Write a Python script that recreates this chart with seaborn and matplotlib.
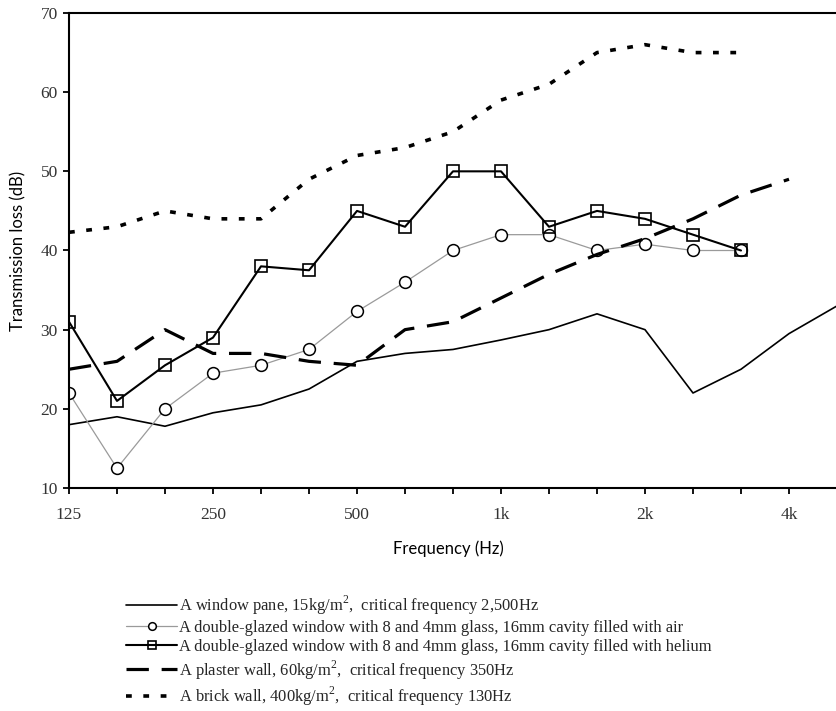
import numpy as np
import pandas as pd
import matplotlib
matplotlib.use("Agg")
import matplotlib.pyplot as plt
import seaborn as sns

# ---- data -------------------------------------------------------------
bands = ["125", "160", "200", "250", "315", "400", "500", "630", "800",
         "1k", "1.25k", "1.6k", "2k", "2.5k", "3.15k", "4k", "5k"]
tick_bands = ["125", "250", "500", "1k", "2k", "4k"]

window_pane = [18, 19, 17.8, 19.5, 20.5, 22.5, 26, 27, 27.5, 28.7, 30, 32, 30, 22, 25, 29.5, 33]
double_air = [22, 12.5, 20, 24.5, 25.5, 27.5, 32.3, 36, 40, 42, 42, 40, 40.8, 40, 40]
double_helium = [31, 21, 25.5, 29, 38, 37.5, 45, 43, 50, 50, 43, 45, 44, 42, 40]
plaster_wall = [25, 26, 30, 27, 27, 26, 25.5, 30, 31, 34, 37, 39.5, 41.5, 44, 47, 49]
brick_wall = [42.3, 43, 45, 44, 44, 49, 52, 53, 55, 59, 61, 65, 66, 65, 65]

labels = [
    "A window pane, 15kg/m$^2$,  critical frequency 2,500Hz",
    "A double-glazed window with 8 and 4mm glass, 16mm cavity filled with air",
    "A double-glazed window with 8 and 4mm glass, 16mm cavity filled with helium",
    "A plaster wall, 60kg/m$^2$,  critical frequency 350Hz",
    "A brick wall, 400kg/m$^2$,  critical frequency 130Hz",
]

def frame(vals):
    return pd.DataFrame({"band": np.arange(len(vals)), "loss": vals})

# ---- figure -----------------------------------------------------------
sns.set_theme(style="ticks")
plt.rcParams["font.family"] = ["Liberation Serif", "DejaVu Serif"]
plt.rcParams["mathtext.fontset"] = "custom"
plt.rcParams["mathtext.rm"] = "Liberation Serif"

fig = plt.figure(figsize=(8.37, 7.11), dpi=100)
ax = fig.add_axes([69 / 837, (711 - 488) / 711, (837 - 69) / 837, (488 - 13) / 711])

sns.lineplot(data=frame(window_pane), x="band", y="loss", ax=ax, color="black",
             linewidth=1.2, label=labels[0])
sns.lineplot(data=frame(double_air), x="band", y="loss", ax=ax, color="#9a9a9a",
             linewidth=0.9, marker="o", markersize=8.5, markerfacecolor="white",
             markeredgecolor="black", markeredgewidth=1.1, label=labels[1])
sns.lineplot(data=frame(double_helium), x="band", y="loss", ax=ax, color="black",
             linewidth=1.5, marker="s", markersize=8.5, markerfacecolor="none",
             markeredgecolor="black", markeredgewidth=1.2, label=labels[2])
sns.lineplot(data=frame(plaster_wall), x="band", y="loss", ax=ax, color="black",
             linewidth=2.3, linestyle=(0, (7, 4)), label=labels[3])
sns.lineplot(data=frame(brick_wall), x="band", y="loss", ax=ax, color="black",
             linewidth=2.6, linestyle=(0, (1.6, 3.2)), label=labels[4])

ax.set_xlim(0, (837 - 69) / 48.27)
ax.set_ylim(10, 70)
ax.set_yticks(np.arange(10, 71, 10))
ax.set_xticks(np.arange(len(bands)))
ax.set_xticklabels([b if b in tick_bands else "" for b in bands])

for side in ["left", "bottom", "top"]:
    ax.spines[side].set_visible(True)
    ax.spines[side].set_linewidth(1.5)
    ax.spines[side].set_color("black")
ax.spines["right"].set_visible(False)

ax.tick_params(axis="y", direction="out", length=4, width=1.3, pad=4,
               labelsize=12.5, colors="black")
ax.tick_params(axis="x", direction="out", length=4.5, width=1.3, pad=9,
               labelsize=12.5, colors="black")
for t in ax.get_xticklabels() + ax.get_yticklabels():
    t.set_color("#333333")

ax.set_xlabel("Frequency (Hz)", fontfamily="Lato", fontsize=12, color="black")
ax.set_ylabel("Transmission loss (dB)", fontfamily="Lato", fontsize=12, color="black")
ax.xaxis.set_label_coords(0.5 - 5 / 768, -(540 - 488) / 475)
ax.yaxis.set_label_coords(-(69 - 26) / 768, 0.5)

leg = ax.legend(loc="upper left", bbox_to_anchor=(126 / 837, (711 - 594) / 711),
                bbox_transform=fig.transFigure, frameon=False, fontsize=11.9,
                handlelength=3.1, handletextpad=0.12, labelspacing=0.18,
                borderpad=0, borderaxespad=0, numpoints=1, markerscale=0.65)

fig.savefig("out.png", dpi=100)
